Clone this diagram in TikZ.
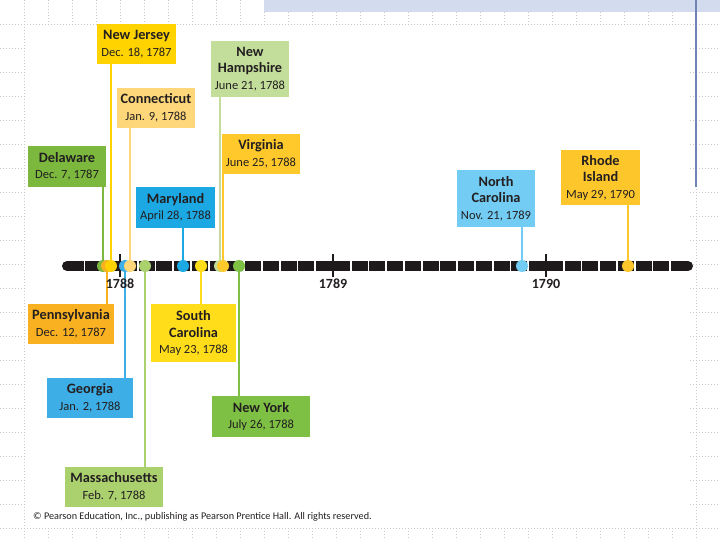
\documentclass[tikz,border=0pt]{standalone}
\usepackage{fontspec}
\setmainfont{Carlito}

\definecolor{ink}{HTML}{231F20}
\definecolor{barblack}{HTML}{1E1A1B}
\definecolor{gridgray}{HTML}{C8C8C8}
\definecolor{bandblue}{HTML}{D3DCEF}
\definecolor{edgeblue}{HTML}{7282B4}
\definecolor{deGreen}{HTML}{7CB83E}
\definecolor{paOrange}{HTML}{F9B121}
\definecolor{njYellow}{HTML}{FFD300}
\definecolor{gaBlue}{HTML}{3DAEE6}
\definecolor{ctYellow}{HTML}{FDD77A}
\definecolor{maGreen}{HTML}{ABD16F}
\definecolor{mdBlue}{HTML}{1CA8E3}
\definecolor{scYellow}{HTML}{FFDD1A}
\definecolor{nhGreen}{HTML}{C3DE9B}
\definecolor{vaYellow}{HTML}{FFC82B}
\definecolor{nyGreen}{HTML}{7DC043}
\definecolor{ncBlue}{HTML}{72CCF3}
\definecolor{riYellow}{HTML}{FDC72C}

\begin{document}
\begin{tikzpicture}[x=1pt,y=-1pt,
  state node/.style={fill=#1,inner sep=0pt,align=center,text=ink,
    font=\fontsize{14.3}{16.5}\selectfont\bfseries},
  state line/.style={draw=#1,line width=2.5pt},
  date dot/.style={circle,fill=#1,inner sep=0pt,minimum size=12pt},
  year label/.style={text=ink,font=\fontsize{14}{15}\selectfont\bfseries},
  gridline/.style={gridgray,line width=0.8pt,dash pattern=on 1pt off 2pt}]

  \useasboundingbox (0,0) rectangle (720,540);

  % slide background
  \foreach \gx in {24,48,...,720} \draw[gridline] (\gx,0) -- (\gx,540);
  \foreach \gy in {24,48,...,528} \draw[gridline] (0,\gy) -- (720,\gy);
  \fill[white] (25,25) rectangle (690,527);
  \fill[bandblue] (264,0) rectangle (720,12);
  \draw[edgeblue,line width=1.5pt] (696,0) -- (696,187);

  % boxes above the line
  \node[state node=njYellow,minimum width=79,minimum height=40] (nj) at (136.5,44)
    {New Jersey\\{\mdseries\fontsize{12.5}{15}\selectfont Dec. 18, 1787}};
  \node[state node=nhGreen,minimum width=78,minimum height=56] (nh) at (250,69)
    {New\\Hampshire\\{\mdseries\fontsize{12.5}{15}\selectfont June 21, 1788}};
  \node[state node=ctYellow,minimum width=78,minimum height=40] (ct) at (156,108)
    {Connecticut\\{\mdseries\fontsize{12.5}{15}\selectfont Jan. 9, 1788}};
  \node[state node=vaYellow,minimum width=78,minimum height=40] (va) at (261,154)
    {Virginia\\{\mdseries\fontsize{12.5}{15}\selectfont June 25, 1788}};
  \node[state node=deGreen,minimum width=78,minimum height=41] (de) at (67,166.5)
    {Delaware\\{\mdseries\fontsize{12.5}{15}\selectfont Dec. 7, 1787}};
  \node[state node=mdBlue,minimum width=79,minimum height=41] (md) at (175.5,207.5)
    {Maryland\\{\mdseries\fontsize{12.5}{15}\selectfont April 28, 1788}};
  \node[state node=ncBlue,minimum width=78,minimum height=57] (nc) at (496,198.5)
    {North\\Carolina\\{\mdseries\fontsize{12.5}{15}\selectfont Nov. 21, 1789}};
  \node[state node=riYellow,minimum width=79,minimum height=55] (ri) at (600.5,177.5)
    {Rhode\\Island\\{\mdseries\fontsize{12.5}{15}\selectfont May 29, 1790}};

  % boxes below the line
  \node[state node=paOrange,minimum width=86,minimum height=40] (pa) at (71,324)
    {Pennsylvania\\{\mdseries\fontsize{12.5}{15}\selectfont Dec. 12, 1787}};
  \node[state node=scYellow,minimum width=85,minimum height=58] (sc) at (193.5,333)
    {South\\Carolina\\{\mdseries\fontsize{12.5}{15}\selectfont May 23, 1788}};
  \node[state node=gaBlue,minimum width=86,minimum height=40] (ga) at (90,398)
    {Georgia\\{\mdseries\fontsize{12.5}{15}\selectfont Jan. 2, 1788}};
  \node[state node=nyGreen,minimum width=98,minimum height=41] (ny) at (261,416.5)
    {New York\\{\mdseries\fontsize{12.5}{15}\selectfont July 26, 1788}};
  \node[state node=maGreen,minimum width=98,minimum height=40] (ma) at (114,487)
    {Massachusetts\\{\mdseries\fontsize{12.5}{15}\selectfont Feb. 7, 1788}};

  % dates on the line
  \coordinate (de-d) at (103,266);
  \coordinate (pa-d) at (107,266);
  \coordinate (nj-d) at (111,266);
  \coordinate (ga-d) at (125,266);
  \coordinate (ct-d) at (130,266);
  \coordinate (ma-d) at (145,266);
  \coordinate (md-d) at (183,266);
  \coordinate (sc-d) at (201,266);
  \coordinate (nh-d) at (220,266);
  \coordinate (va-d) at (223,266);
  \coordinate (ny-d) at (239,266);
  \coordinate (nc-d) at (522,266);
  \coordinate (ri-d) at (628,266);

  \draw[state line=deGreen]  (de.south -| de-d) -- (de-d);
  \draw[state line=njYellow] (nj.south -| nj-d) -- (nj-d);
  \draw[state line=ctYellow] (ct.south -| ct-d) -- (ct-d);
  \draw[state line=mdBlue]   (md.south -| md-d) -- (md-d);
  \draw[state line=nhGreen]  (nh.south -| nh-d) -- (nh-d);
  \draw[state line=vaYellow] (va.south -| va-d) -- (va-d);
  \draw[state line=ncBlue]   (nc.south -| nc-d) -- (nc-d);
  \draw[state line=riYellow] (ri.south -| ri-d) -- (ri-d);
  \draw[state line=paOrange] (pa-d) -- (pa.north -| pa-d);
  \draw[state line=gaBlue]   (ga-d) -- (ga.north -| ga-d);
  \draw[state line=maGreen]  (ma-d) -- (ma.north -| ma-d);
  \draw[state line=scYellow] (sc-d) -- (sc.north -| sc-d);
  \draw[state line=nyGreen]  (ny-d) -- (ny.north -| ny-d);

  % the time line, one block a month
  \coordinate (bar-w) at (67,266);
  \coordinate (bar-e) at (688,266);
  \draw[barblack,line width=10pt,line cap=round] (bar-w) -- (bar-e);
  \foreach \m in {-2,...,31}
    \draw[white,line width=1.8pt] ({120+\m*17.75},260) -- ({120+\m*17.75},272);
  \foreach \yr/\xx in {1788/120,1789/333,1790/546}{
    \draw[barblack,line width=1.5pt] (\xx,254) -- (\xx,277);
    \node[year label] (y\yr) at (\xx,284) {\yr};
  }

  \node[date dot=deGreen]  (de-dot) at (de-d) {};
  \node[date dot=paOrange] (pa-dot) at (pa-d) {};
  \node[date dot=njYellow] (nj-dot) at (nj-d) {};
  \node[date dot=gaBlue]   (ga-dot) at (ga-d) {};
  \node[date dot=ctYellow] (ct-dot) at (ct-d) {};
  \node[date dot=maGreen]  (ma-dot) at (ma-d) {};
  \node[date dot=mdBlue]   (md-dot) at (md-d) {};
  \node[date dot=scYellow] (sc-dot) at (sc-d) {};
  \node[date dot=nhGreen]  (nh-dot) at (nh-d) {};
  \node[date dot=vaYellow] (va-dot) at (va-d) {};
  \node[date dot=nyGreen]  (ny-dot) at (ny-d) {};
  \node[date dot=ncBlue]   (nc-dot) at (nc-d) {};
  \node[date dot=riYellow] (ri-dot) at (ri-d) {};

  \node[anchor=west,inner sep=0pt,text=ink,font=\fontsize{10.2}{12}\selectfont] (copy) at (33,517)
    {\textcopyright\ Pearson Education, Inc., publishing as Pearson Prentice Hall. All rights reserved.};
\end{tikzpicture}
\end{document}
